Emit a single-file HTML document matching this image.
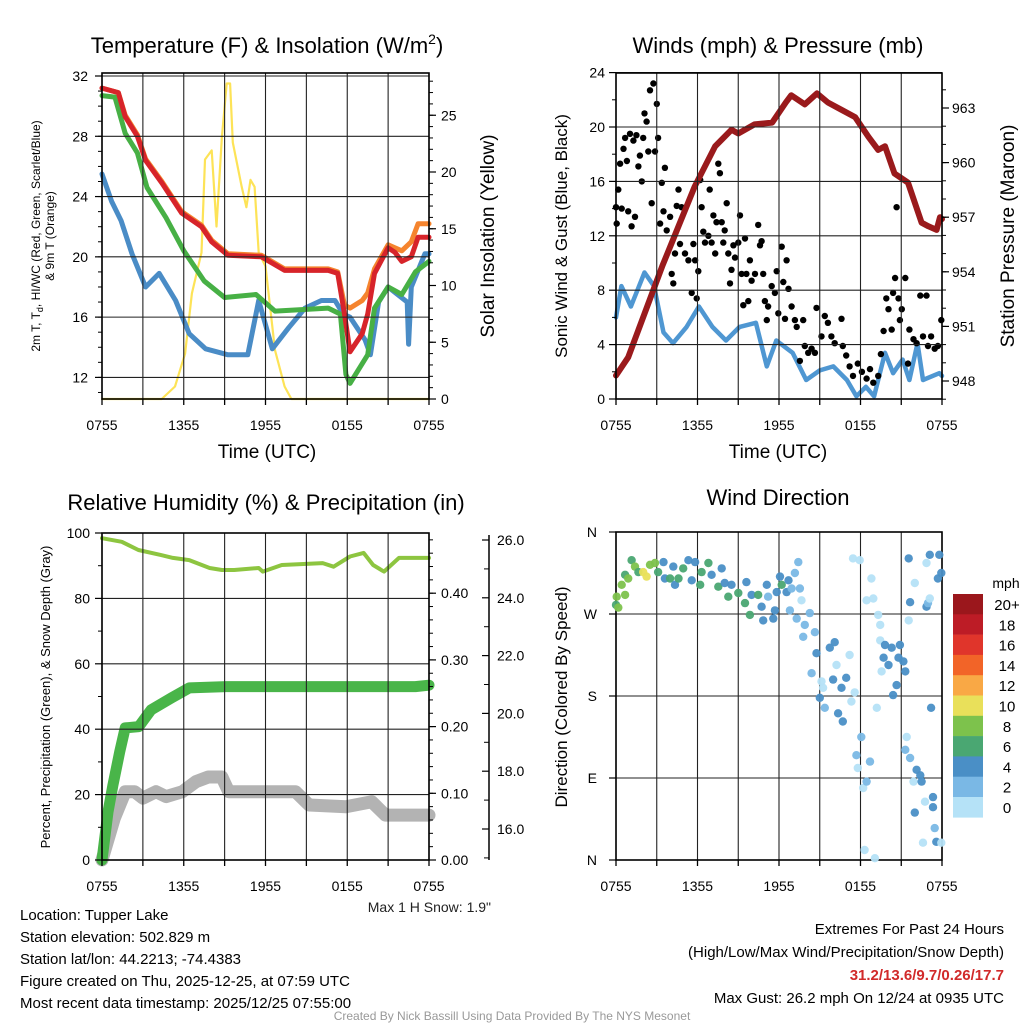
<!DOCTYPE html>
<html><head><meta charset="utf-8"><style>
html,body{margin:0;padding:0;background:#fff;}
svg{display:block;font-family:"Liberation Sans",sans-serif;}
</style></head><body>
<svg id="chart" width="1024" height="1024" viewBox="0 0 1024 1024" xmlns="http://www.w3.org/2000/svg"></svg>
<script>
// ---------- DATA ----------
const xTickLabels = ["0755","1355","1955","0155","0755"];
const xTickHours = [0,6,12,18,24];
// Temperature panel
const redT = [0,1.2,1.7,2.6,3.2,4.4,5.85,7.3,8.05,9.25,11.7,13.4,16.6,17.3,17.8,18.2,19.1,19.5,20,21,21.5,22,22.7,23.2,24];
const redV = [31.2,30.9,29.3,28.0,26.4,24.9,22.9,22.0,21.0,20.1,20.0,19.1,19.1,18.9,16.2,13.7,14.9,16.2,18.9,20.6,20.3,19.7,20.0,21.3,21.3];
const orangeV = [31.2,30.9,29.4,28.1,26.5,25.0,23.0,22.1,21.1,20.2,20.1,19.2,19.2,19.0,16.8,16.6,17.1,17.6,19.2,20.8,20.6,20.4,21.0,22.2,22.2];
const greenT = [0,0.95,1.7,2.6,3.3,4.7,6.0,7.5,9.0,11.3,12.7,16.6,17.5,17.9,18.2,19.5,20.0,21.0,22.0,23.0,24];
const greenV = [30.7,30.6,28.2,26.9,24.6,22.6,20.4,18.4,17.3,17.5,16.4,16.6,16.2,12.2,11.6,13.5,16.6,18.0,17.5,19.0,19.7];
const blueT = [0,0.7,1.4,2.2,3.2,4.2,5.4,6.4,7.6,9.25,10.7,11.5,12.5,13.7,14.9,16.1,17.1,17.7,18.2,19.3,19.7,20.3,21.0,22.4,22.5,22.7,23.7,24];
const blueV = [25.5,23.7,22.4,20.2,18.0,18.9,17.1,14.9,13.9,13.5,13.5,17.1,13.9,15.3,16.6,17.1,17.1,16.2,16.0,14.5,13.5,17.0,18.0,17.0,14.2,18.0,20.2,20.2];
const solarT = [0,4.38,5.36,6.1,6.6,7.3,7.56,8.05,8.4,8.8,9.15,9.4,9.6,10.25,10.6,10.9,11.2,11.5,12.0,12.7,13.4,13.9,24];
const solarV = [0,0,1.1,4.0,9.3,12.9,21.1,21.9,15.2,23.1,27.8,27.8,22.6,18.7,16.9,19.3,18.7,12.9,11.7,4.3,1.1,0,0];
// Winds panel
const presT = [0,0.9,2.1,3.4,4.6,5.8,7.3,8.5,9.0,10.2,11.5,12.5,12.9,13.9,14.8,15.6,16.6,17.6,18.6,19.3,19.8,20.5,21.5,22.5,23.0,23.6,23.85,24];
const presV = [948.3,949.3,951.7,954.3,956.5,958.7,960.9,961.8,961.6,962.1,962.2,963.3,963.7,963.2,963.8,963.3,962.9,962.5,961.4,960.7,960.9,959.4,958.9,956.7,956.5,956.3,957.0,956.9];
const windT = [0,0.4,1.1,2.1,2.8,3.5,4.2,5.2,6.1,7.1,8.1,9.1,10.3,11.1,11.8,13.0,14.0,15.0,16.0,17.0,17.7,18.4,19.0,19.8,20.4,21.1,21.6,22.2,22.6,23.8,24];
const windV = [6.0,8.3,6.8,9.3,8.3,4.9,4.1,5.3,6.8,5.3,4.3,5.3,5.6,2.4,4.3,3.4,1.4,2.1,2.4,1.4,0.2,0.9,0.2,3.4,1.9,2.9,1.4,4.1,1.4,1.9,1.7];
const gustT = [0,0.05,0.17,0.3,0.42,0.55,0.67,0.8,0.9,1.03,1.15,1.28,1.4,1.5,1.65,1.76,1.9,2.0,2.1,2.25,2.38,2.5,2.63,2.75,2.87,3.0,3.1,3.25,3.37,3.5,3.6,3.73,3.98,4.1,4.22,4.34,4.47,4.6,4.71,4.83,5.08,5.33,5.57,5.7,5.82,5.94,6.06,6.2,6.3,6.43,6.55,6.8,6.9,7.04,7.17,7.3,7.4,7.53,7.65,7.78,7.9,8.0,8.15,8.27,8.39,8.5,8.64,8.76,9.0,9.13,9.25,9.37,9.5,9.6,9.74,9.86,9.98,10.23,10.47,10.6,10.72,10.84,10.96,11.1,11.2,11.46,11.7,11.83,11.95,12.2,12.32,12.44,12.56,12.7,12.93,13.17,13.3,13.54,13.78,13.9,14.15,14.4,14.64,14.76,15.13,15.37,15.6,15.86,16.1,16.6,16.7,16.95,17.2,17.45,17.8,18.1,18.45,18.7,18.94,19.3,19.5,19.7,19.9,20.06,20.3,20.4,20.55,20.66,20.8,20.9,21.04,21.3,21.5,21.6,21.9,22.13,22.4,22.6,22.86,22.97,23.2,23.46,23.7,23.95];
const gustV = [14.1,12.9,15.4,17.3,14.0,18.4,19.2,17.5,13.8,19.5,12.7,19.0,13.4,19.4,17.1,17.9,16.0,19.2,21.0,20.4,18.2,22.7,14.4,23.2,18.2,21.7,19.2,12.9,15.9,13.8,17.0,12.4,13.4,9.2,8.5,10.7,14.2,15.4,11.4,14.1,10.7,10.2,7.8,11.4,10.2,7.4,9.4,16.1,14.1,12.3,11.5,12.0,15.4,11.5,13.5,10.7,13.0,17.3,16.6,13.0,11.5,12.4,14.4,10.7,8.5,9.5,11.3,10.4,11.5,13.5,9.2,6.9,11.8,9.2,7.2,10.2,8.7,9.2,12.8,11.3,11.6,9.2,7.2,5.8,6.8,8.3,7.8,9.4,6.3,11.2,8.6,5.9,10.2,8.1,6.8,5.8,5.3,2.8,5.8,3.9,3.4,3.7,3.4,6.7,4.6,6.1,5.6,4.6,4.1,5.9,3.9,3.2,2.4,1.7,2.6,2.0,1.5,2.2,1.2,1.7,3.3,5.0,7.4,6.6,5.1,7.8,8.9,14.1,7.4,5.8,6.6,8.9,2.6,5.1,4.4,4.1,7.6,4.6,7.6,3.9,4.6,3.7,3.9,5.8];
// RH / precip / snow
const rhT = [0,1.45,2.67,4.3,5.2,6.4,7.9,8.8,9.7,11.5,11.8,13.2,16.2,17.0,18.2,19.2,19.9,20.7,21.8,24];
const rhV = [98.4,97.3,94.8,93.3,92.4,91.7,89.3,88.7,88.7,89.3,88.2,90.2,90.8,89.7,92.8,93.9,90.2,88.2,92.4,92.4];
const precipT = [0,0.44,0.8,1.3,1.7,2.7,3.6,5.1,6.4,9.1,23,24];
const precipV = [0,0.072,0.112,0.162,0.198,0.20,0.225,0.243,0.258,0.26,0.26,0.262];
const snowT = [0,0.9,1.7,2.4,3.0,3.96,4.7,5.9,6.9,7.8,8.8,9.3,14.2,15.2,17.9,19.8,20.8,24];
const snowV = [14.93,16.37,17.29,17.29,17.07,17.29,17.12,17.29,17.64,17.8,17.8,17.29,17.29,16.83,16.77,16.94,16.48,16.48];
// Wind direction
const dirT = [0,0.05,0.17,0.42,0.67,0.67,0.9,1.15,1.4,1.65,2.0,2.25,2.5,2.87,3.1,3.5,3.6,3.98,4.22,4.34,4.6,4.95,5.33,5.57,5.82,6.2,6.3,6.8,7.04,7.53,7.78,8.0,8.27,8.5,9.0,9.5,9.6,9.86,9.98,10.47,10.72,10.84,11.1,11.2,11.58,11.7,11.83,12.07,12.2,12.56,12.7,12.93,13.17,13.42,13.54,13.66,12.8,13.3,13.9,13.78,14.27,14.64,14.4,14.76,15.13,15.25,15.0,15.37,15.74,15.98,16.1,16.23,16.35,16.6,16.7,16.95,17.2,17.33,17.57,17.45,17.94,17.7,17.8,18.06,18.2,18.45,18.45,18.7,18.94,18.8,18.3,19.06,19.2,19.3,19.45,19.45,19.55,19.7,19.8,20.06,20.3,20.4,20.66,20.8,20.9,21.16,21.3,21.4,21.3,21.55,21.65,21.65,21.55,21.9,22.0,22.0,22.13,22.4,22.5,22.75,22.86,22.86,22.97,23.1,23.1,23.2,23.34,23.34,22.6,23.46,23.58,23.7,23.8,23.95,23.95];
const dirV = [280,289,277,302,291,313,309,329,322,316,316,311,324,326,316,327,309,309,322,302,309,320,329,307,327,302,316,326,313,300,320,304,289,302,293,282,305,269,291,291,278,263,302,289,265,274,294,311,302,294,307,298,315,327,298,285,274,265,258,245,271,250,205,227,196,189,178,167,233,198,239,214,161,189,152,200,225,174,184,331,329,115,101,135,79,86,285,108,287,309,11,2,167,269,258,241,207,222,236,214,233,181,192,222,236,218,207,135,121,263,112,283,331,86,304,52,99,93,86,64,278,326,282,335,287,167,58,69,19,35,20,309,335,315,19];
const dirSpd = [6,8,8,8,8,6,8,6,8,6,10,10,8,8,6,4,4,6,4,4,6,6,4,4,4,6,6,6,4,6,4,4,6,4,6,6,4,6,4,6,4,4,4,2,4,4,4,4,6,4,4,2,2,2,2,0.5,2,2,2,2,2,2,2,4,0.5,0.5,4,2,4,4,4,0.5,4,4,4,4,0.5,0.5,0.5,0.5,0.5,2,0.5,2,0.5,2,0.5,2,0.5,0.5,0.5,0.5,0.5,0.5,0.5,0.5,0.5,4,4,4,4,4,4,4,4,4,4,0.5,2,0.5,2,4,4,0.5,0.5,4,4,4,4,0.5,4,0.5,2,4,0.5,4,4,4,0.5,2,4,4,4,4,0.5];
// colorbar
const cbLabels = ["20+","18","16","14","12","10","8","6","4","2","0"];
const cbColors = ["#9b171c","#bd1c26","#e0352b","#f26428","#f9a845","#e9e05a","#7dc24c","#4aa772","#4a8fc6","#7ab8e5","#b5e2f7"];

// ---------- HELPERS ----------
const NS = "http://www.w3.org/2000/svg";
const svg = document.getElementById('chart');
function mk(tag, attrs, parent){
  const e = document.createElementNS(NS, tag);
  for (const k in attrs) e.setAttribute(k, attrs[k]);
  (parent||svg).appendChild(e);
  return e;
}
function txt(s, x, y, size, anchor, parent, extra){
  const a = {x:x, y:y, 'font-size':size, 'text-anchor':anchor||'middle', fill:'#000'};
  if (extra) for (const k in extra) a[k]=extra[k];
  const e = mk('text', a, parent);
  e.textContent = s;
  return e;
}
function xScale(p){ return t => p.x0 + t/24*(p.x1-p.x0); }
function poly(ts, vs, xf, yf, attrs, name){
  const pts = ts.map((t,i)=> xf(t).toFixed(1)+","+yf(vs[i]).toFixed(1)).join(" ");
  const a = Object.assign({points:pts, fill:'none', 'stroke-linejoin':'round', 'stroke-linecap':'round'}, attrs);
  const e = mk('polyline', a);
  
  
  return e;
}
function frame(p, name){
  const g = mk('g', {});
  
  
  const xf = xScale(p);
  for (let h=0; h<=24; h+=3){
    const x = xf(h);
    mk('line',{x1:x,x2:x,y1:p.y0,y2:p.y1,stroke:'#222','stroke-width':1.1},g);
    mk('line',{x1:x,x2:x,y1:p.y1,y2:p.y1+6,stroke:'#000','stroke-width':1.3},g);
  }
  xTickHours.forEach((h,i)=>{
    const t = txt(xTickLabels[i], xf(h), p.y1+31, 14, 'middle', g);
    
    
  });
  return g;
}
function hgrid(p, vals, yf, g){
  vals.forEach(v=>{ const y=yf(v); mk('line',{x1:p.x0,x2:p.x1,y1:y,y2:y,stroke:'#222','stroke-width':1.1},g); });
}
function border(p,g){
  mk('rect',{x:p.x0,y:p.y0,width:p.x1-p.x0,height:p.y1-p.y0,fill:'none',stroke:'#000','stroke-width':1.6},g);
}
function yAxis(p, side, vals, labels, yf, minors, g, dx){
  const x = side==='left'? p.x0 : p.x1;
  const dir = side==='left'? -1 : 1;
  vals.forEach((v,i)=>{
    const y = yf(v);
    mk('line',{x1:x,x2:x+dir*7,y1:y,y2:y,stroke:'#000','stroke-width':1.2},g);
    const t = txt(labels[i], x+dir*(dx||11), y+5, 14, side==='left'?'end':'start', g);
    
    
  });
  (minors||[]).forEach(v=>{ const y=yf(v); mk('line',{x1:x,x2:x+dir*4,y1:y,y2:y,stroke:'#000','stroke-width':1},g); });
}
function range(a,b,s){ const r=[]; for(let v=a; v<=b+1e-9; v+=s) r.push(+v.toFixed(4)); return r; }
function rot(s, x, y, size, name){
  const t = txt(s, 0, 0, size, 'middle', svg, {transform:`translate(${x},${y}) rotate(-90)`});
  
  
  return t;
}

// ---------- PANEL 1: Temperature ----------
const P1 = {x0:102,x1:429,y0:73,y1:399};
const x1f = xScale(P1);
const yT = v => 76 + (32-v)*15.07;
const yS = v => 399 - v*11.35;
const g1 = frame(P1,'temperature-panel');
hgrid(P1,[32,28,24,20,16,12],yT,g1);
yAxis(P1,'left',[32,28,24,20,16,12],["32","28","24","20","16","12"],yT,range(11,31,1),g1,14);
yAxis(P1,'right',[0,5,10,15,20,25],["0","5","10","15","20","25"],yS,range(1,28,1),g1,12);
poly(solarT,solarV,x1f,yS,{stroke:'#fde357','stroke-width':2.2},'solar-insolation-line');
poly(blueT,blueV,x1f,yT,{stroke:'#4a8cc6','stroke-width':5},'blue-temp-line');
poly(greenT,greenV,x1f,yT,{stroke:'#47b045','stroke-width':5},'green-temp-line');
poly(redT,orangeV,x1f,yT,{stroke:'#f5842e','stroke-width':5},'orange-9m-temp-line');
poly(redT,redV,x1f,yT,{stroke:'#d7242a','stroke-width':5},'red-2m-temp-line');
border(P1,g1);
svg.appendChild(g1);
let t;
t = mk('text',{x:267,y:53,'font-size':22,'text-anchor':'middle'});
t.innerHTML = 'Temperature (F) &amp; Insolation (W/m<tspan dy="-9" font-size="14">2</tspan><tspan dy="9">)</tspan>';


t = txt('Time (UTC)',267,458,19);  
t = mk('text',{'font-size':12,'text-anchor':'middle',transform:'translate(40,236) rotate(-90)'});
t.innerHTML='2m T, T<tspan dy="3" font-size="9">d</tspan><tspan dy="-3">, HI/WC (Red, Green, Scarlet/Blue)</tspan>';


rot('& 9m T (Orange)',54,236,12,'temperature-y-axis-subtitle');
rot('Solar Insolation (Yellow)',494,236,19,'solar-y-axis-title');

// ---------- PANEL 2: Winds ----------
const P2 = {x0:616,x1:942,y0:73,y1:399};
const x2f = xScale(P2);
const yW = v => 399 - v*13.6;
const yP = v => 381 - (v-948)*18.2;
const g2 = frame(P2,'winds-panel');
hgrid(P2,[4,8,12,16,20,24],yW,g2);
yAxis(P2,'left',[0,4,8,12,16,20,24],["0","4","8","12","16","20","24"],yW,range(2,22,4),g2,11);
yAxis(P2,'right',[948,951,954,957,960,963],["948","951","954","957","960","963"],yP,range(947,964,1),g2,10);
poly(windT,windV,x2f,yW,{stroke:'#4f97d2','stroke-width':4.5},'sonic-wind-line');
const gg = mk('g',{});


gustT.forEach((tt,i)=>{
  const c = mk('circle',{cx:x2f(tt).toFixed(1),cy:yW(gustV[i]).toFixed(1),r:3.2,fill:'#000'},gg);
  
  
});
poly(presT,presV,x2f,yP,{stroke:'#9a1a1c','stroke-width':6},'pressure-line');
border(P2,g2);
svg.appendChild(g2);
t = txt('Winds (mph) & Pressure (mb)',778,53,22);  
t = txt('Time (UTC)',778,458,19);  
rot('Sonic Wind & Gust (Blue, Black)',567,236,17,'wind-y-axis-title');
rot('Station Pressure (Maroon)',1014,236,19,'pressure-y-axis-title');

// ---------- PANEL 3: RH ----------
const P3 = {x0:102,x1:429,y0:533,y1:860};
const x3f = xScale(P3);
const yRH = v => 860 - v*3.27;
const yPr = v => 860 - v*667;
const ySn = v => 829 - (v-16)*28.9;
const g3 = frame(P3,'humidity-panel');
hgrid(P3,[20,40,60,80],yRH,g3);
yAxis(P3,'left',[0,20,40,60,80,100],["0","20","40","60","80","100"],yRH,range(10,90,20),g3,12);
yAxis(P3,'right',[0,0.1,0.2,0.3,0.4],["0.00","0.10","0.20","0.30","0.40"],yPr,range(0.02,0.48,0.02),g3,12);
// snow axis
const gs = mk('g',{});


mk('line',{x1:489,x2:489,y1:535,y2:860,stroke:'#000','stroke-width':1.5},gs);
[16,18,20,22,24,26].forEach(v=>{
  const y=ySn(v);
  mk('line',{x1:489,x2:482,y1:y,y2:y,stroke:'#000','stroke-width':1.2},gs);
  const tl = txt(v.toFixed(1),497,y+5,14,'start',gs);
  
  
});
[15,17,19,21,23,25].forEach(v=>{ const y=ySn(v); mk('line',{x1:489,x2:484,y1:y,y2:y,stroke:'#000','stroke-width':1},gs); });
poly(rhT,rhV,x3f,yRH,{stroke:'#8dc540','stroke-width':4},'relative-humidity-line');
poly(snowT,snowV,x3f,ySn,{stroke:'#b3b3b3','stroke-width':13},'snow-depth-line');
poly(precipT,precipV,x3f,yPr,{stroke:'#49b549','stroke-width':11},'precipitation-line');
border(P3,g3);
svg.appendChild(g3);
t = txt('Relative Humidity (%) & Precipitation (in)',266,510,22);  
rot('Percent, Precipitation (Green), & Snow Depth (Gray)',50,697,13,'humidity-y-axis-title');
t = txt('Max 1 H Snow: 1.9"',491,912,14,'end',svg,{fill:'#222'});  

// ---------- PANEL 4: Wind Direction ----------
const P4 = {x0:616,x1:942,y0:532,y1:860};
const x4f = xScale(P4);
const yD = d => 860 - d/360*328;
const g4 = frame(P4,'wind-direction-panel');
hgrid(P4,[90,180,270],yD,g4);
yAxis(P4,'left',[0,90,180,270,360],["N","E","S","W","N"],yD,[],g4,19);
border(P4,g4);
const gd = mk('g',{});


function spdColor(s){ let idx = Math.min(10, Math.floor(s/2)); return cbColors[10-idx]; }
dirT.forEach((tt,i)=>{
  const c = mk('circle',{cx:x4f(tt).toFixed(1),cy:yD(dirV[i]).toFixed(1),r:4.2,fill:spdColor(dirSpd[i]),'fill-opacity':0.95},gd);
  
  
});
t = txt('Wind Direction',778,505,22);  
rot('Direction (Colored By Speed)',567,697,17,'direction-y-axis-title');
// colorbar
const gc = mk('g',{});


t = txt('mph',1006,588,14,'middle',gc);  
cbColors.forEach((c,i)=>{
  const y = 594 + i*20.3;
  const r = mk('rect',{x:953,y:y,width:30,height:20.6,fill:c},gc);
  
  
  const l = txt(cbLabels[i],1007,y+16,15,'middle',gc);
  
  
});

// ---------- FOOTER TEXT ----------
const info = ["Location: Tupper Lake","Station elevation: 502.829 m","Station lat/lon: 44.2213; -74.4383","Figure created on Thu, 2025-12-25, at 07:59 UTC","Most recent data timestamp: 2025/12/25 07:55:00"];
info.forEach((s,i)=>{ const e=txt(s,20,920+i*22,15,'start');   });
t = txt('Extremes For Past 24 Hours',1004,934,15,'end');  
t = txt('(High/Low/Max Wind/Precipitation/Snow Depth)',1004,957,15,'end');  
t = txt('31.2/13.6/9.7/0.26/17.7',1004,980,15,'end',svg,{fill:'#d12a2a','font-weight':'bold'});  
t = txt('Max Gust: 26.2 mph On 12/24 at 0935 UTC',1004,1003,15,'end');  
t = txt('Created By Nick Bassill Using Data Provided By The NYS Mesonet',512,1020,12,'middle',svg,{fill:'#999'});  
</script>
</body></html>
